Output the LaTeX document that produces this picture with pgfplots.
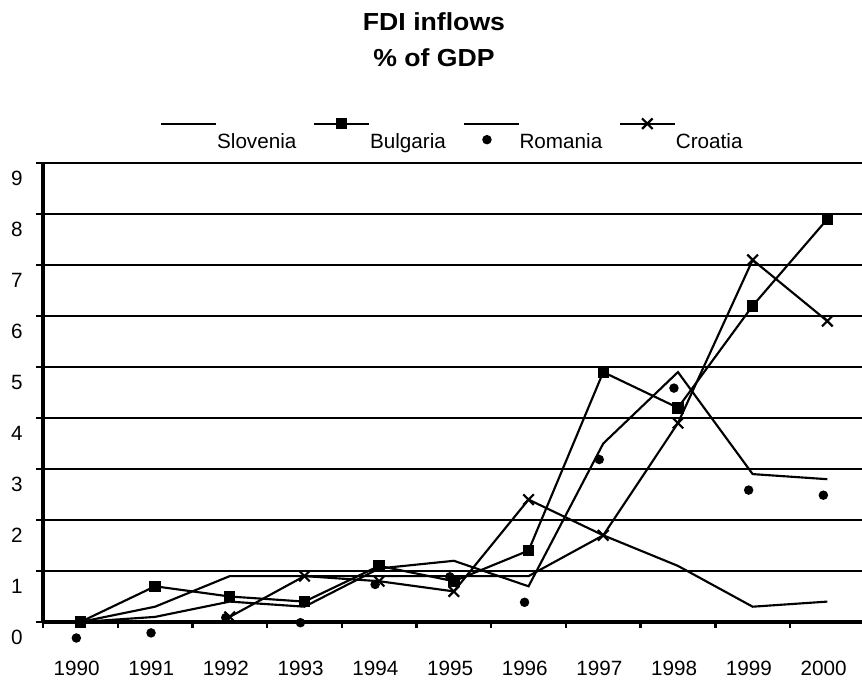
\documentclass[border=0pt]{standalone}
\usepackage{fontspec}
\setmainfont{Liberation Sans}
\usepackage{pgfplots}
\pgfplotsset{compat=1.18}
\begin{document}
\begin{tikzpicture}
\useasboundingbox (0,0) rectangle (646.5pt,513pt);
\node[anchor=base,font=\bfseries\fontsize{18.5}{22}\selectfont,inner sep=0pt] at (325.5pt,490pt) {\scalebox{1.08}[1]{FDI inflows}};
\node[anchor=base,font=\bfseries\fontsize{18.5}{22}\selectfont,inner sep=0pt] at (325.5pt,462.75pt) {\scalebox{1.08}[1]{\% of GDP}};
\begin{axis}[
  at={(32.25pt,46.5pt)}, anchor=south west,
  scale only axis, width=614.25pt, height=344.25pt,
  xmin=-0.5, xmax=10.464, ymin=0, ymax=9,
  clip=false,
  axis x line*=bottom, axis y line*=left,
  axis line style={-, line width=2.3pt, black},
  ytick={0,1,2,3,4,5,6,7,8,9},
  xtick={0,1,2,3,4,5,6,7,8,9,10},
  xticklabels={1990,1991,1992,1993,1994,1995,1996,1997,1998,1999,2000},
  minor xtick={-0.5,0.5,1.5,2.5,3.5,4.5,5.5,6.5,7.5,8.5,9.5},
  tick align=outside,
  major tick length=5.25pt, minor tick length=4.5pt,
  major x tick style={draw=none},
  minor x tick style={line width=1.8pt, black},
  major y tick style={line width=1.8pt, black},
  ymajorgrids, major grid style={line width=1.8pt, black},
  /pgf/number format/assume math mode=true,
  tick label style={font=\fontsize{15.5}{18}\selectfont},
  yticklabel style={anchor=base east, inner sep=0pt, xshift=-9.9pt, yshift=-17.1pt},
  xticklabel style={anchor=base, inner sep=0pt, yshift=-34.5pt, xshift=-2.85pt},
  legend columns=4,
  legend image code/.code={\draw[mark repeat=2,mark phase=2,#1] plot coordinates {(0pt,18.5pt) (20.6pt,18.5pt) (41.25pt,18.5pt)};},
  legend style={draw=none, fill=none, inner sep=0pt, outer sep=0pt,
    at={(0.14286,1.0276)}, anchor=south west,
    font=\fontsize{15.5}{18}\selectfont,
    cells={anchor=base west}, nodes={inner sep=0pt},
    /tikz/every even column/.append style={column sep=12.4pt}},
]
\addplot[black, line width=1.6pt, mark=none] coordinates {
  (0,0) (1,0.3) (2,0.9) (3,0.9) (4,0.9) (5,0.9) (6,0.9) (7,1.7) (8,1.1) (9,0.3) (10,0.4)};
\addlegendentry{Slovenia}
\addplot[black, line width=1.6pt, mark=square*, mark size=3.5pt] coordinates {
  (0,0) (1,0.7) (2,0.5) (3,0.4) (4,1.1) (5,0.8) (6,1.4) (7,4.9) (8,4.2) (9,6.2) (10,7.9)};
\addlegendentry{Bulgaria}
\addplot[black, line width=1.6pt, mark=*, mark size=2.7pt, mark options={xshift=-3pt,yshift=-12pt}] coordinates {
  (0,0) (1,0.1) (2,0.4) (3,0.3) (4,1.05) (5,1.2) (6,0.7) (7,3.5) (8,4.9) (9,2.9) (10,2.8)};
\addlegendentry{Romania}
\addplot[black, line width=1.6pt, mark=x, mark size=5.6pt] coordinates {
  (2,0.1) (3,0.9) (4,0.8) (5,0.6) (6,2.4) (7,1.7) (8,3.9) (9,7.1) (10,5.9)};
\addlegendentry{Croatia}
\end{axis}
\end{tikzpicture}
\end{document}
